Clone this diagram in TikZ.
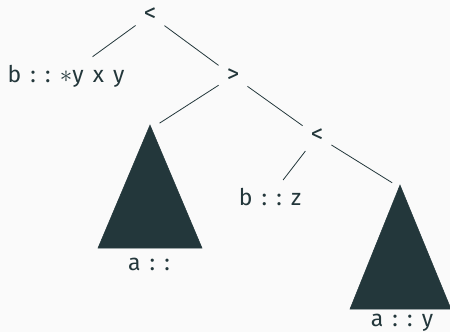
\documentclass[tikz,border=0pt]{standalone}
\usepackage{fontspec}
\setmainfont{Fira Sans}
\usepackage{tikz}
\usetikzlibrary{positioning, calc}
\definecolor{mDark}{HTML}{23373B}
\definecolor{mBack}{HTML}{FAFAFA}
\newcommand{\gp}{\hspace{0.4em}}

\begin{document}
\begin{tikzpicture}[x=1pt, y=-1pt, font=\fontsize{23}{25}\selectfont, color=mDark,
    lbl/.style={inner sep=8pt, text=mDark},
    op/.style={lbl, font=\fontsize{25}{27}\selectfont},
    edge/.style={draw=mDark, line width=0.8pt},
    subtree/.style={fill=mDark, draw=mDark, line width=0.5pt}]

    % ---------------- background ----------------
    \fill[mBack] (0,0) rectangle (450,332);
    \useasboundingbox (0,0) rectangle (450,332);

    % ---------------- nodes ----------------
    \node (root) [op]  at (150,15)  {<};
    \node (bl)   [lbl] at (66,76)   {b\gp:\gp:\gp$\ast$y\gp x\gp y};
    \node (gt)   [op]  at (233,76)  {>};
    \node (lt)   [op]  at (317,136) {<};
    \node (bz)   [lbl] at (270,197) {b\gp:\gp:\gp z};
    \coordinate (ta) at (150,125);
    \coordinate (tb) at (400,185);

    % ---------------- subtrees ----------------
    \path[subtree] (ta) -- (98,248) -- (202,248) -- cycle;
    \path[subtree] (tb) -- (350,309) -- (451,309) -- cycle;
    \node (al) [lbl, inner sep=0pt, anchor=base] at (149,270) {a\gp:\gp:};
    \node (ay) [lbl, inner sep=0pt, anchor=base] at (402,326) {a\gp:\gp:\gp y};

    % ---------------- edges ----------------
    \draw[edge] (root) -- (bl);
    \draw[edge] (root) -- (gt);
    \draw[edge, shorten >=9pt] (gt) -- ($(ta)+(2,3)$);
    \draw[edge] (gt) -- (lt);
    \draw[edge] (lt) -- (bz);
    \draw[edge, shorten >=8pt] (lt) -- ($(tb)+(-1,2)$);
\end{tikzpicture}
\end{document}
